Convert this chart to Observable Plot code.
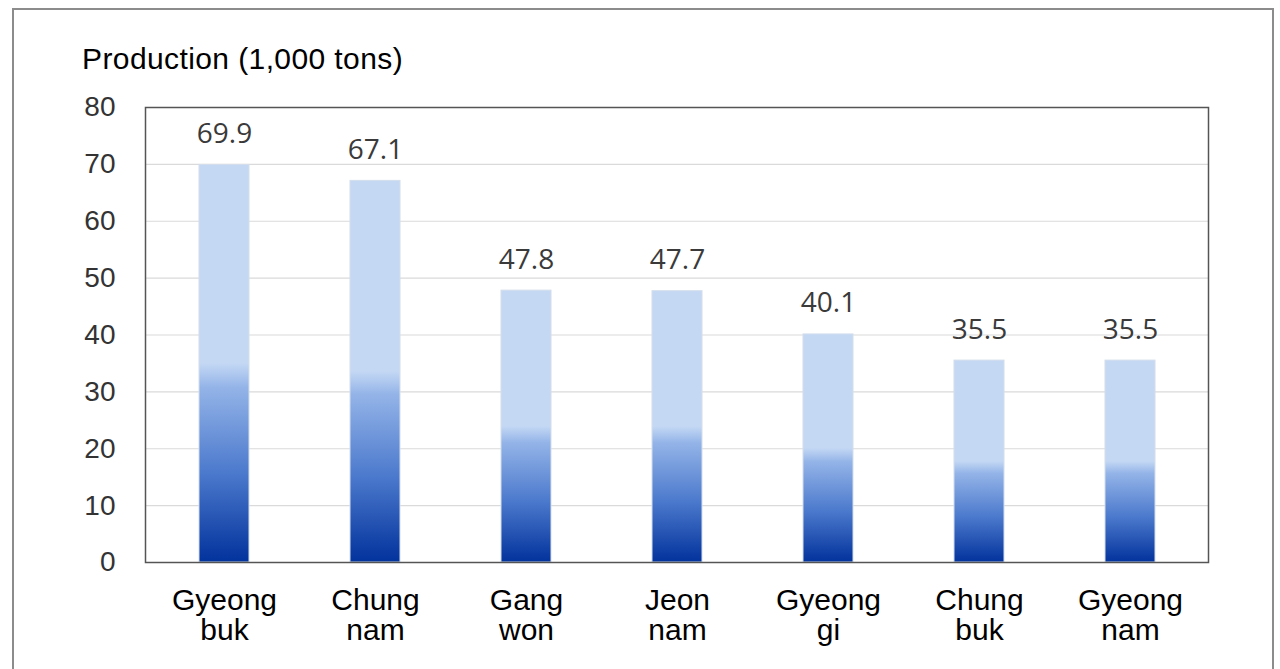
<!DOCTYPE html>
<html>
<head>
<meta charset="utf-8">
<script src="https://cdn.jsdelivr.net/npm/d3@7"></script>
<script src="https://cdn.jsdelivr.net/npm/@observablehq/plot@0.6"></script>
<style>
  html, body { margin: 0; padding: 0; background: #fff; }
  #wrap { position: relative; width: 1280px; height: 669px; overflow: hidden; }
  #border { position: absolute; left: 12px; top: 8px; width: 1262px; height: 700px; border: 2px solid #8c8c8c; box-sizing: border-box; }
  #title { position: absolute; left: 82px; top: 42px; font-family: "Liberation Sans", Arial, sans-serif; font-size: 30px; color: #000; letter-spacing: 0.4px; }
  #chart { position: absolute; left: 0; top: 0; }
</style>
</head>
<body>
<div id="wrap">
  <div id="border"></div>
  <div id="chart"></div>
  <div id="title">Production (1,000 tons)</div>
</div>
<script>
const regions = ["Gyeong\nbuk", "Chung\nnam", "Gang\nwon", "Jeon\nnam", "Gyeong\ngi", "Chung\nbuk", "Gyeong\nnam"];
const production = [69.9, 67.1, 47.8, 47.7, 40.1, 35.5, 35.5];
const yTicks = [0, 10, 20, 30, 40, 50, 60, 70, 80];

const data = regions.map((r, i) => ({region: r, value: production[i]}));

const chart = Plot.plot({
  width: 1280,
  height: 669,
  marginLeft: 145,
  marginRight: 72,
  marginTop: 107,
  marginBottom: 107,
  style: {fontFamily: "'Liberation Sans', Arial, sans-serif", background: "transparent"},
  x: {domain: regions, paddingInner: 0.67, paddingOuter: 0.335, label: null},
  y: {domain: [0, 80], ticks: yTicks, label: null},
  marks: [
    Plot.gridY(yTicks.filter(d => d > 0 && d < 80), {stroke: "#dadada", strokeOpacity: 1, strokeWidth: 1.2}),
    Plot.barY(data, {x: "region", y: "value", fill: "url(#barGrad)", stroke: "#d3deec", strokeWidth: 1}),
    Plot.text(data, {x: "region", y: "value", text: d => d.value.toFixed(1), dy: -22, lineAnchor: "bottom", fontSize: 28, fill: "#3a3a3a", fontFamily: "'Open Sans', sans-serif"}),
    Plot.frame({stroke: "#555", strokeWidth: 1.5}),
    Plot.axisY({ticks: yTicks, tickSize: 0, tickPadding: 30, fontSize: 28, color: "#333", label: null}),
    Plot.axisX({tickSize: 0, tickPadding: 26, fontSize: 30, lineHeight: 1.0, color: "#000", label: null})
  ]
});

const svgNS = "http://www.w3.org/2000/svg";
const defs = document.createElementNS(svgNS, "defs");
defs.innerHTML = `<linearGradient id="barGrad" x1="0" y1="0" x2="0" y2="1">
  <stop offset="0" stop-color="#c4d8f4"/>
  <stop offset="0.5" stop-color="#c4d8f4"/>
  <stop offset="0.56" stop-color="#94b4e8"/>
  <stop offset="0.78" stop-color="#4a78cc"/>
  <stop offset="1" stop-color="#02329c"/>
</linearGradient>`;
chart.insertBefore(defs, chart.firstChild);
document.getElementById("chart").appendChild(chart);
</script>
</body>
</html>
